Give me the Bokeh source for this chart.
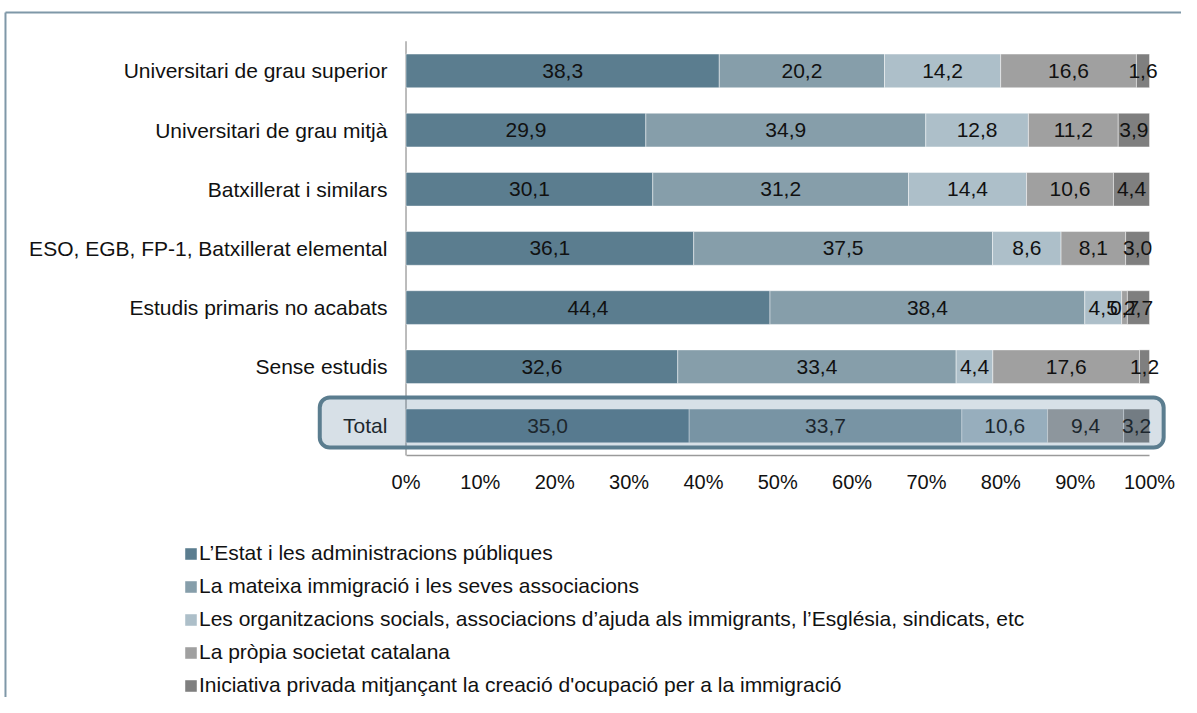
from bokeh.plotting import figure
from bokeh.models import (Range1d, FixedTicker, Legend, LegendItem, BoxAnnotation,
                          ColumnDataSource)
from bokeh.core.properties import value
from bokeh.embed import file_html
from bokeh.resources import INLINE

# ---------------- data ----------------
categories = [
    "Universitari de grau superior",
    "Universitari de grau mitjà",
    "Batxillerat i similars",
    "ESO, EGB, FP-1, Batxillerat elemental",
    "Estudis primaris no acabats",
    "Sense estudis",
    "Total",
]
series_names = [
    "L’Estat i les administracions públiques",
    "La mateixa immigració i les seves associacions",
    "Les organitzacions socials, associacions d’ajuda als immigrants, l’Església, sindicats, etc",
    "La pròpia societat catalana",
    "Iniciativa privada mitjançant la creació d'ocupació per a la immigració",
]
estat = [38.3, 29.9, 30.1, 36.1, 44.4, 32.6, 35.0]
immigracio = [20.2, 34.9, 31.2, 37.5, 38.4, 33.4, 33.7]
organitzacions = [14.2, 12.8, 14.4, 8.6, 4.5, 4.4, 10.6]
societat = [16.6, 11.2, 10.6, 8.1, 0.7, 17.6, 9.4]
privada = [1.6, 3.9, 4.4, 3.0, 2.7, 1.2, 3.2]
tick_values = [0, 10, 20, 30, 40, 50, 60, 70, 80, 90, 100]
tick_labels = ["0%", "10%", "20%", "30%", "40%", "50%", "60%", "70%", "80%", "90%", "100%"]

# ---------------- style ----------------
colors = ["#5b7d8f", "#869eaa", "#adbfc9", "#a0a0a0", "#7f7f7f"]
FONT = "Liberation Sans"
TXT = "#111111"
FRAME = "#7f98a8"

series = [estat, immigracio, organitzacions, societat, privada]
n = len(categories)
ys = [n - 1 - i for i in range(n)]
totals = [sum(v) for v in zip(*series)]


def fmt(v):
    return f"{v:.1f}".replace(".", ",")


X0, X1 = -54.54, 104.30
Y0, Y1 = -4.59, 7.19

p = figure(width=1181, height=697,
           x_range=Range1d(X0, X1), y_range=Range1d(Y0, Y1),
           output_backend="svg", toolbar_location=None, y_axis_location=None,
           min_border=0)
p.grid.visible = False
p.outline_line_color = None
p.background_fill_color = "white"
p.border_fill_color = "white"

# x axis, drawn at the bottom of the category band
ax = p.xaxis[0]
ax.fixed_location = -0.5
ax.ticker = FixedTicker(ticks=tick_values)
ax.major_label_overrides = {t: l for t, l in zip(tick_values, tick_labels)}
ax.bounds = (tick_values[0], tick_values[-1])
ax.axis_line_color = "#9a9a9a"
ax.axis_line_width = 1.5
ax.major_tick_line_color = None
ax.minor_tick_line_color = None
ax.major_tick_out = 0
ax.major_tick_in = 0
ax.major_label_standoff = 15
ax.major_label_text_font = FONT
ax.major_label_text_font_size = "20px"
ax.major_label_text_color = TXT

# outer frame lines (top and left)
p.segment(x0=[X0 + 0.67, X0 + 0.67], y0=[6.987, 6.987], x1=[X1, X0 + 0.67], y1=[6.987, Y0],
          line_color=FRAME, line_width=2)

# vertical category axis line
p.segment(x0=[tick_values[0]], y0=[-0.5], x1=[tick_values[0]], y1=[n - 0.5],
          line_color="#a6a6a6", line_width=1.5)

# bars
left = [0.0] * n
renderers = []
label_sources = []
for vals, name, color in zip(series, series_names, colors):
    pct = [100.0 * v / t for v, t in zip(vals, totals)]
    right = [l + q for l, q in zip(left, pct)]
    src = ColumnDataSource(dict(
        y=ys, left=left, right=right,
        mid=[(l + r) / 2 for l, r in zip(left, right)],
        label=[fmt(v) for v in vals]))
    r = p.hbar(y="y", left="left", right="right", height=0.57, source=src,
               fill_color=color, line_color="white", line_alpha=0.45, line_width=1)
    renderers.append(r)
    label_sources.append(src)
    left = right

for src in label_sources:
    p.text(x="mid", y="y", text="label", source=src, text_align="center",
           text_baseline="middle", text_font=value(FONT), text_font_size="21px",
           text_color=TXT)

# category labels
cat_src = ColumnDataSource(dict(x=[-2.5] * n, y=ys, t=categories))
p.text(x="x", y="y", text="t", source=cat_src, text_align="right",
       text_baseline="middle", text_font=value(FONT), text_font_size="21px",
       text_color=TXT)

# highlight box around Total
p.add_layout(BoxAnnotation(left=-11.6, right=101.9, bottom=-0.365, top=0.48,
                           fill_color="#4a7090", fill_alpha=0.22,
                           line_color="#5b7d8f", line_alpha=1.0, line_width=4,
                           border_radius=10))

# legend
legend = Legend(items=[LegendItem(label=nm, renderers=[r]) for nm, r in zip(series_names, renderers)],
                location=(183, 0), orientation="vertical",
                label_text_font=FONT, label_text_font_size="21px", label_text_color=TXT,
                glyph_width=15, glyph_height=15, label_standoff=1, spacing=9,
                label_height=22, padding=0, margin=0, border_line_color=None,
                background_fill_alpha=0)
p.add_layout(legend)

open("out.html", "w").write(file_html(p, INLINE))
